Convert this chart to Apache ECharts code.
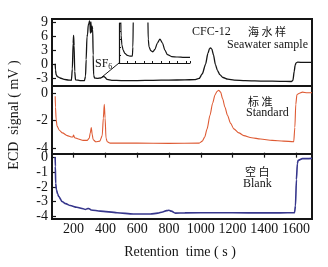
<!DOCTYPE html>
<html lang="en">
<head>
    <meta charset="UTF-8">
    <title>ECD signal</title>
    <script src="https://cdn.jsdelivr.net/npm/echarts@6/dist/echarts.min.js"></script>
    <style>
        html, body { margin: 0; padding: 0; background: #fff; }
        #main { width: 328px; height: 267px; }
    </style>
</head>
<body>
    <div id="main"></div>
    <script>
        // 保留时间 (s) 与信号 (mV)
        var seawater = [
            [84, 0.1], [86, -1.2], [90, -2.2], [98, -2.6], [115, -2.9], [140, -3.2], [170, -3.35],
            [186, -3.4], [192, -1.0], [197, 4.5], [200, 6.1], [203, 4.0], [207, -1.5], [212, -3.3],
            [240, -3.45], [268, -3.45], [275, -2.5], [279, 1.0], [284, 5.8], [288, 6.4], [292, 8.3],
            [296, 8.6], [300, 9.2], [303, 8.4], [306, 6.6], [309, 9.0], [312, 6.8], [316, 8.1],
            [320, 7.4], [323, 2.0], [326, -2.3], [332, -2.9], [350, -3.0], [370, -2.9], [382, -2.7],
            [390, -2.55], [398, -2.8], [410, -3.2], [440, -3.4], [500, -3.45], [600, -3.45],
            [700, -3.4], [800, -3.35], [900, -3.3], [960, -3.25], [990, -3.0], [1010, -2.0],
            [1030, 0.0], [1045, 2.3], [1055, 3.3], [1062, 3.5], [1070, 3.2], [1080, 2.0],
            [1092, 0.0], [1105, -1.3], [1120, -2.2], [1140, -2.8], [1170, -3.15], [1210, -3.35],
            [1280, -3.45], [1400, -3.55], [1500, -3.6], [1570, -3.65], [1580, -3.4], [1588, -1.5],
            [1594, -0.2], [1600, 0.3], [1610, 0.45], [1650, 0.4], [1700, 0.4]
        ];
        var standard = [
            [84, -0.2], [86, -1.0], [90, -1.9], [96, -2.4], [110, -2.7], [130, -2.9], [160, -3.1],
            [185, -3.2], [195, -3.2], [200, -3.05], [206, -3.25], [230, -3.35], [260, -3.45],
            [285, -3.45], [298, -3.3], [305, -2.9], [311, -2.5], [317, -3.0], [323, -3.4],
            [340, -3.55], [365, -3.5], [380, -3.1], [387, -1.8], [393, -0.8], [398, -1.8],
            [404, -3.3], [412, -3.55], [430, -3.65], [600, -3.65], [800, -3.67], [990, -3.65],
            [1010, -3.5], [1025, -3.2], [1040, -2.6], [1058, -1.6], [1075, -0.7], [1090, -0.1],
            [1102, 0.15], [1113, 0.24], [1125, 0.1], [1138, -0.4], [1152, -1.0], [1168, -1.6],
            [1188, -2.2], [1208, -2.6], [1240, -2.9], [1271, -3.1], [1320, -3.25], [1376, -3.35],
            [1450, -3.45], [1521, -3.5], [1585, -3.55], [1592, -2.5], [1598, -0.8], [1605, -0.1],
            [1617, 0.0], [1640, 0.1], [1670, 0.05], [1700, 0.05]
        ];
        var blank = [
            [84, 0.05], [85, -0.6], [87, -1.75], [92, -2.2], [100, -2.5], [106, -2.65], [127, -3.0],
            [150, -3.15], [179, -3.28], [220, -3.4], [260, -3.5], [274, -3.55], [285, -3.5],
            [295, -3.48], [310, -3.58], [368, -3.66], [473, -3.77], [576, -3.86], [683, -3.86],
            [730, -3.8], [760, -3.72], [785, -3.63], [800, -3.6], [815, -3.66], [840, -3.8],
            [900, -3.78], [1100, -3.77], [1300, -3.78], [1500, -3.78], [1590, -3.77], [1596, -3.3],
            [1602, -1.5], [1608, -0.4], [1613, -0.18], [1640, -0.07], [1700, -0.05]
        ];
        // 插图 (SF6 区域放大)
        var insetX = [0.2, 0.25, 0.35, 0.5, 0.7, 1.0, 1.3, 1.6, 1.66, 1.72, 3.45, 3.5, 3.6, 3.8,
            4.05, 4.3, 4.6, 4.9, 5.2, 5.5, 5.8, 6.3, 7.0, 7.8, 8.5];
        var insetY = [12, 7, 4.5, 3.2, 2.4, 1.9, 1.7, 1.7, 4, 12, 12, 6, 4, 3.1, 2.8, 3.4, 5.0,
            6.0, 5.0, 3.2, 2.1, 1.6, 1.5, 1.4, 1.4];

        var xTicks = [200, 400, 600, 800, 1000, 1200, 1400, 1600];
        var yTicksTop = [9, 6, 3, 0, -3];
        var yTicksMid = [0, -2, -4];
        var yTicksBot = [0, -1, -2, -3, -4];

        var serif = 'Liberation Serif';
        var ink = '#151515';

        var insetData = insetX.map(function (x, i) { return [x, insetY[i]]; });

        function plain(v) { return String(v); }
        function yAxis(idx, min, max, ticks) {
            return {
                type: 'value', gridIndex: idx, min: min, max: max,
                axisLine: { show: false },
                axisTick: { inside: true, length: 4, lineStyle: { color: ink, width: 1.2 }, customValues: ticks },
                axisLabel: { customValues: ticks, formatter: plain, margin: 4, fontFamily: serif, fontSize: 14, color: ink },
                splitLine: { show: false }
            };
        }
        function xAxis(idx, show) {
            return {
                type: 'value', gridIndex: idx, min: 64, max: 1700,
                axisLine: { show: false },
                axisTick: { show: show, inside: true, length: 5, lineStyle: { color: ink, width: 1.2 }, customValues: xTicks },
                axisLabel: { show: show, customValues: xTicks, formatter: plain, margin: 3, fontFamily: serif, fontSize: 14, color: ink },
                splitLine: { show: false }
            };
        }
        var gridBase = { left: 52, right: 16, show: true, borderColor: ink, borderWidth: 2, backgroundColor: 'transparent' };
        var lineBase = { type: 'line', showSymbol: false, smooth: 0.25, smoothMonotone: 'x' };

        var chart = echarts.init(document.getElementById('main'));
        var option = {
            animation: false,
            grid: [
                Object.assign({ top: 19, height: 67 }, gridBase),
                Object.assign({ top: 86, height: 68 }, gridBase),
                Object.assign({ top: 154, height: 65 }, gridBase),
                { left: 119, top: 23, width: 71, height: 40, show: false }
            ],
            xAxis: [
                xAxis(0, false), xAxis(1, false), xAxis(2, true),
                {
                    type: 'value', gridIndex: 3, min: 0, max: 8.5, interval: 1,
                    axisLine: { lineStyle: { color: ink, width: 1.2 } },
                    axisTick: { inside: true, length: 2, lineStyle: { color: ink } },
                    axisLabel: { show: false }, splitLine: { show: false }
                }
            ],
            yAxis: [
                yAxis(0, -4.6, 9.6, yTicksTop),
                yAxis(1, -4.45, 0.55, yTicksMid),
                yAxis(2, -4.2, 0.25, yTicksBot),
                {
                    type: 'value', gridIndex: 3, min: 0, max: 10, interval: 2,
                    axisLine: { show: true, lineStyle: { color: ink, width: 1.2 } },
                    axisTick: { inside: true, length: 2, lineStyle: { color: ink } },
                    axisLabel: { show: false }, splitLine: { show: false }
                }
            ],
            series: [
                Object.assign({ xAxisIndex: 0, yAxisIndex: 0, data: seawater,
                    lineStyle: { color: ink, width: 1.3 } }, lineBase),
                Object.assign({ xAxisIndex: 1, yAxisIndex: 1, data: standard,
                    lineStyle: { color: '#de5a33', width: 1.1 } }, lineBase),
                Object.assign({ xAxisIndex: 2, yAxisIndex: 2, data: blank,
                    lineStyle: { color: '#36368c', width: 1.6 } }, lineBase),
                Object.assign({ xAxisIndex: 3, yAxisIndex: 3, data: insetData,
                    lineStyle: { color: ink, width: 1.2 } }, lineBase)
            ],
            graphic: [
                { type: 'text', left: 192, top: 26, style: { text: 'CFC-12', font: '12px ' + serif, fill: ink } },
                { type: 'text', left: 248, top: 26, style: { text: '海 水 样', font: '11px "Noto Sans CJK SC"', fill: ink } },
                { type: 'text', left: 227, top: 39, style: { text: 'Seawater sample', font: '12px ' + serif, fill: ink } },
                { type: 'text', left: 248, top: 96, style: { text: '标 准', font: '11px "Noto Sans CJK SC"', fill: ink } },
                { type: 'text', left: 246, top: 107, style: { text: 'Standard', font: '12px ' + serif, fill: ink } },
                { type: 'text', left: 245, top: 166, style: { text: '空 白', font: '11px "Noto Sans CJK SC"', fill: ink } },
                { type: 'text', left: 243, top: 178, style: { text: 'Blank', font: '12px ' + serif, fill: ink } },
                {
                    type: 'text', left: 95, top: 58,
                    style: {
                        text: '{a|SF}{b|6}',
                        rich: {
                            a: { fontFamily: serif, fontSize: 12, fill: ink },
                            b: { fontFamily: serif, fontSize: 8, fill: ink, verticalAlign: 'bottom', padding: [6, 0, 0, 0] }
                        }
                    }
                },
                {
                    type: 'text', x: 14, y: 115, rotation: Math.PI / 2,
                    style: { text: 'ECD  signal ( mV )', font: '14px ' + serif, fill: ink, align: 'center', verticalAlign: 'middle' }
                },
                {
                    type: 'text', x: 180, y: 252,
                    style: { text: 'Retention  time ( s )', font: '14px ' + serif, fill: ink, align: 'center', verticalAlign: 'middle' }
                }
            ]
        };
        chart.setOption(option);

        // SF6 引线：从峰到插图左下角
        var p0 = chart.convertToPixel({ gridIndex: 0 }, [375, -2.8]);
        var p1 = chart.convertToPixel({ gridIndex: 3 }, [0, 0]);
        option.graphic.push({
            type: 'line', shape: { x1: p0[0], y1: p0[1], x2: p1[0], y2: p1[1] },
            style: { stroke: ink, lineWidth: 1 }
        });
        chart.setOption({ graphic: option.graphic });
    </script>
</body>
</html>
